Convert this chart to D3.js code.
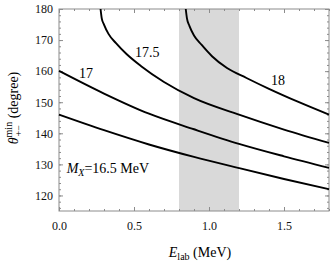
<!DOCTYPE html>
<html>
<head>
<meta charset="utf-8">
<script src="https://cdn.jsdelivr.net/npm/d3@7"></script>
<style>
  html, body { margin: 0; padding: 0; background: #fff; }
  svg text { font-family: "Liberation Serif", "Times New Roman", serif; }
</style>
</head>
<body>
<svg id="chart" width="332" height="266"></svg>
<script>
// E_lab (MeV) and theta_min (degree)
const e165 = [0, 0.3, 0.6, 0.9, 1.2, 1.5, 1.8];
const th165 = [146.0, 141.0, 136.4, 132.4, 128.8, 125.3, 122.0];

const e17 = [0, 0.3, 0.6, 0.9, 1.2, 1.5, 1.8];
const th17 = [160.1, 152.8, 146.3, 141.3, 136.6, 132.6, 128.9];

const e175 = [0.277, 0.285, 0.30, 0.33, 0.38, 0.45, 0.55, 0.70, 0.90, 1.20, 1.50, 1.80];
const th175 = [180, 177, 175, 172, 169, 165.5, 161.5, 156.5, 151.3, 146.0, 141.2, 136.9];

const e18 = [0.845, 0.853, 0.87, 0.90, 0.95, 1.02, 1.12, 1.25, 1.40, 1.60, 1.80];
const th18 = [180, 177, 174.5, 171.5, 168.5, 164.8, 161.0, 157.8, 154.3, 150.0, 146.0];

const band = [0.8, 1.2];
const xTicks = [0, 0.5, 1.0, 1.5];
const yTicks = [120, 130, 140, 150, 160, 170, 180];

const curves = [
  {mass: "16.5", e: e165, th: th165},
  {mass: "17", e: e17, th: th17},
  {mass: "17.5", e: e175, th: th175},
  {mass: "18", e: e18, th: th18}
];

const serif = '"Liberation Serif", "Times New Roman", serif';

const svg = d3.select("#chart");
const margin = {left: 59, right: 3, top: 9, bottom: 55};
const width = 332 - margin.left - margin.right;
const height = 266 - margin.top - margin.bottom;

const x = d3.scaleLinear().domain([0, 1.8]).range([0, width]);
const y = d3.scaleLinear().domain([115, 180]).range([height, 0]);

const g = svg.append("g").attr("transform", `translate(${margin.left},${margin.top})`);

// shaded resonance region
g.append("rect")
  .attr("x", x(band[0]))
  .attr("y", 0)
  .attr("width", x(band[1]) - x(band[0]))
  .attr("height", height)
  .attr("fill", "#d9d9d9");

const frameColor = "#8c8c8c";

function styleAxis(sel) {
  sel.attr("font-family", serif).attr("font-size", 12);
  sel.select(".domain").remove();
  sel.selectAll(".tick line").attr("stroke", frameColor);
  sel.selectAll(".tick text").attr("fill", "#111");
}

const xMinor = d3.range(0, 1.81, 0.1);
const yMinor = d3.range(116, 181, 2);

// minor ticks, all four sides
g.append("g").attr("transform", `translate(0,${height})`)
  .call(d3.axisBottom(x).tickValues(xMinor).tickSize(-2).tickFormat("")).call(styleAxis);
g.append("g")
  .call(d3.axisTop(x).tickValues(xMinor).tickSize(-2).tickFormat("")).call(styleAxis);
g.append("g")
  .call(d3.axisLeft(y).tickValues(yMinor).tickSize(-2).tickFormat("")).call(styleAxis);
g.append("g").attr("transform", `translate(${width},0)`)
  .call(d3.axisRight(y).tickValues(yMinor).tickSize(-2).tickFormat("")).call(styleAxis);

// major ticks
g.append("g").attr("transform", `translate(0,${height})`)
  .call(d3.axisBottom(x).tickValues(xTicks).tickSize(-4).tickPadding(10).tickFormat(d3.format(".1f")))
  .call(styleAxis);
g.append("g")
  .call(d3.axisTop(x).tickValues(xTicks).tickSize(-4).tickFormat("")).call(styleAxis);
g.append("g")
  .call(d3.axisLeft(y).tickValues(yTicks).tickSize(-4).tickPadding(6).tickFormat(d3.format("d")))
  .call(styleAxis);
g.append("g").attr("transform", `translate(${width},0)`)
  .call(d3.axisRight(y).tickValues(yTicks).tickSize(-4).tickFormat("")).call(styleAxis);

// frame
g.append("rect")
  .attr("width", width).attr("height", height)
  .attr("fill", "none").attr("stroke", frameColor).attr("stroke-width", 1);

// curves
const line = d3.line()
  .x(d => x(d[0]))
  .y(d => y(d[1]))
  .curve(d3.curveMonotoneX);

g.append("g")
  .selectAll("path")
  .data(curves)
  .join("path")
  .attr("d", c => line(c.e.map((v, i) => [v, c.th[i]])))
  .attr("fill", "none")
  .attr("stroke", "#000")
  .attr("stroke-width", 1.9);

// curve labels
const labels = [
  {text: "17", at: [0.18, 157.9], anchor: "middle"},
  {text: "17.5", at: [0.507, 164.7], anchor: "start"},
  {text: "18", at: [1.413, 155.6], anchor: "start"}
];
g.selectAll(".clabel")
  .data(labels)
  .join("text")
  .attr("class", "clabel")
  .attr("x", d => x(d.at[0]))
  .attr("y", d => y(d.at[1]))
  .attr("text-anchor", d => d.anchor)
  .attr("font-family", serif)
  .attr("font-size", 14)
  .text(d => d.text);

const mx = g.append("text")
  .attr("x", x(0.051))
  .attr("y", y(127.3))
  .attr("font-family", serif)
  .attr("font-size", 14);
mx.append("tspan").attr("font-style", "italic").text("M");
mx.append("tspan").attr("font-style", "italic").attr("font-size", 10).attr("dy", 3).text("X");
mx.append("tspan").attr("dy", -3).text("=16.5 MeV");

// x axis title
const xt = svg.append("text")
  .attr("x", 200)
  .attr("y", 257)
  .attr("text-anchor", "middle")
  .attr("font-family", serif)
  .attr("font-size", 14);
xt.append("tspan").attr("font-style", "italic").text("E");
xt.append("tspan").attr("font-size", 10).attr("dy", 3).text("lab");
xt.append("tspan").attr("dy", -3).text(" (MeV)");

// y axis title
const yg = svg.append("g").attr("transform", "translate(18,108) rotate(-90)");
const yt = yg.append("text")
  .attr("x", 0)
  .attr("y", 0)
  .attr("text-anchor", "middle")
  .attr("font-family", serif)
  .attr("font-size", 14);
const th = yt.append("tspan").attr("font-style", "italic").text("\u03b8");
yt.append("tspan").attr("font-size", 10).attr("dy", -6).text("min");
yt.append("tspan").attr("dy", 6).text(" (degree)");
// subscript under the superscript
const thLen = th.node().getComputedTextLength();
const full = yt.node().getComputedTextLength();
yg.append("text")
  .attr("x", -full / 2 + thLen + 1)
  .attr("y", 4)
  .attr("font-family", serif)
  .attr("font-size", 10)
  .text("+\u2212");
</script>
</body>
</html>
